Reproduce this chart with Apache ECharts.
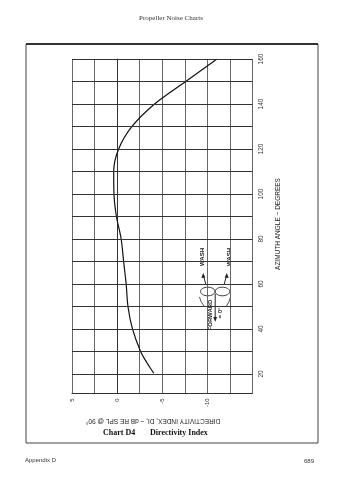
<!DOCTYPE html>
<html>
<head>
<meta charset="utf-8">
<script src="https://cdn.jsdelivr.net/npm/echarts@6/dist/echarts.min.js"></script>
<style>
html,body{margin:0;padding:0;background:#fff;}
#c{width:338px;height:480px;}
</style>
</head>
<body>
<div id="c"></div>
<script>
// Directivity index (dB) vs azimuth angle (degrees)
var azimuth = [160, 150, 140, 130, 120, 110, 100, 90, 80, 70, 60, 50, 40, 30, 25, 20.3];
var directivity = [-11.07, -7.6, -4.15, -1.65, -0.17, 0.38, 0.35, 0.08, -0.45, -0.72, -1.0, -1.2, -1.7, -2.6, -3.3, -4.07];
var angleTicks = [20, 30, 40, 50, 60, 70, 80, 90, 100, 110, 120, 130, 140, 150, 160];
var angleLabels = [20, 40, 60, 80, 100, 120, 140, 160];
var diLabels = [5, 0, -5, -10];

var curve = azimuth.map(function (a, i) { return [directivity[i], a]; });

var chart = echarts.init(document.getElementById('c'), null, {renderer: 'canvas'});
var sans = 'Liberation Sans';

chart.setOption({
  animation: false,
  backgroundColor: '#fff',
  grid: {left: 72, right: 85.5, top: 59, bottom: 86.7},
  xAxis: {
    type: 'value', inverse: true, min: -15, max: 5, interval: 2.5,
    axisLine: {show: true, onZero: false, lineStyle: {color: '#333', width: 1}},
    axisTick: {show: false},
    splitLine: {show: true, lineStyle: {color: '#666', width: 1}},
    axisLabel: {
      rotate: 90, margin: 5, fontFamily: sans, fontSize: 6, color: '#333',
      formatter: function (v) { return diLabels.indexOf(v) >= 0 ? String(v) : ''; }
    }
  },
  yAxis: {
    type: 'value', position: 'right', min: 11.4, max: 160,
    axisLine: {show: true, lineStyle: {color: '#333', width: 1}},
    axisTick: {show: false},
    splitLine: {show: false},
    axisLabel: {
      rotate: 90, margin: 5, fontFamily: sans, fontSize: 6.5, color: '#333',
      customValues: angleLabels,
      formatter: function (v) { return angleLabels.indexOf(v) >= 0 ? String(v) : ''; }
    }
  },
  series: [
    {
      type: 'line', data: [], silent: true,
      markLine: {
        silent: true, symbol: 'none', label: {show: false},
        lineStyle: {color: '#333', width: 1, type: 'solid'},
        data: angleTicks.map(function (a) { return {yAxis: a}; })
      }
    },
    {
      type: 'line', data: curve, smooth: 0.3, showSymbol: false, symbol: 'none',
      lineStyle: {color: '#111', width: 1.2}
    }
  ],
  graphic: [
    {type: 'rect', shape: {x: 26, y: 44, width: 292, height: 399}, style: {fill: 'none', stroke: '#444', lineWidth: 1}},
    {type: 'line', shape: {x1: 26, y1: 44, x2: 318, y2: 44}, style: {stroke: '#111', lineWidth: 1.5}},
    {type: 'text', x: 171, y: 18, style: {text: 'Propeller Noise Charts', font: '7px "Liberation Serif"', fill: '#333', align: 'center', verticalAlign: 'middle'}},
    {type: 'text', x: 278, y: 224, rotation: Math.PI / 2, style: {text: 'AZIMUTH ANGLE ~ DEGREES', font: '6.5px "Liberation Sans"', fill: '#222', align: 'center', verticalAlign: 'middle'}},
    {type: 'text', x: 153, y: 421, rotation: Math.PI, style: {text: 'DIRECTIVITY INDEX, DI, ~ dB RE SPL @ 90°', font: '6.5px "Liberation Sans"', fill: '#222', align: 'center', verticalAlign: 'middle'}},
    {type: 'text', x: 103, y: 433, style: {text: 'Chart D4', font: 'bold 8px "Liberation Serif"', fill: '#111', align: 'left', verticalAlign: 'middle'}},
    {type: 'text', x: 150, y: 433, style: {text: 'Directivity Index', font: 'bold 8px "Liberation Serif"', fill: '#111', align: 'left', verticalAlign: 'middle'}},
    {type: 'text', x: 25, y: 460, style: {text: 'Appendix D', font: '6px "Liberation Sans"', fill: '#333', align: 'left', verticalAlign: 'middle'}},
    {type: 'text', x: 314, y: 461, style: {text: '689', font: '6px "Liberation Sans"', fill: '#333', align: 'right', verticalAlign: 'middle'}},
    // propeller icon
    {type: 'text', x: 202.7, y: 257, rotation: Math.PI / 2, style: {text: 'WASH', font: 'bold 6px "Liberation Sans"', fill: '#222', align: 'center', verticalAlign: 'middle'}},
    {type: 'text', x: 229, y: 257, rotation: Math.PI / 2, style: {text: 'WASH', font: 'bold 6px "Liberation Sans"', fill: '#222', align: 'center', verticalAlign: 'middle'}},
    {type: 'line', shape: {x1: 206, y1: 285, x2: 203.6, y2: 276}, style: {stroke: '#222', lineWidth: 1}},
    {type: 'polygon', shape: {points: [[203.2, 273], [201.3, 278], [205.3, 277.5]]}, style: {fill: '#222'}},
    {type: 'line', shape: {x1: 224, y1: 285, x2: 226.4, y2: 276}, style: {stroke: '#222', lineWidth: 1}},
    {type: 'polygon', shape: {points: [[226.8, 273], [228.7, 278], [224.7, 277.5]]}, style: {fill: '#222'}},
    {type: 'ellipse', shape: {cx: 207.8, cy: 291.5, rx: 7.3, ry: 4.3}, style: {fill: 'none', stroke: '#222', lineWidth: 0.9}},
    {type: 'ellipse', shape: {cx: 222.4, cy: 291.5, rx: 7.3, ry: 4.3}, style: {fill: 'none', stroke: '#222', lineWidth: 0.9}},
    {type: 'bezierCurve', shape: {x1: 199.5, y1: 297, x2: 204, y2: 306, cpx1: 200.5, cpy1: 302}, style: {fill: 'none', stroke: '#222', lineWidth: 0.8}},
    {type: 'bezierCurve', shape: {x1: 230.5, y1: 297, x2: 226.5, y2: 306, cpx1: 229.5, cpy1: 302}, style: {fill: 'none', stroke: '#222', lineWidth: 0.8}},
    {type: 'line', shape: {x1: 215.2, y1: 294, x2: 215.2, y2: 318}, style: {stroke: '#222', lineWidth: 1}},
    {type: 'polygon', shape: {points: [[215.2, 322], [213.3, 317], [217.1, 317]]}, style: {fill: '#222'}},
    {type: 'text', x: 210, y: 315, rotation: Math.PI / 2, style: {text: 'FORWARD', font: 'bold 6px "Liberation Sans"', fill: '#222', align: 'center', verticalAlign: 'middle'}},
    {type: 'text', x: 220.5, y: 313, rotation: Math.PI / 2, style: {text: '= 0°', font: 'bold 6px "Liberation Sans"', fill: '#222', align: 'center', verticalAlign: 'middle'}}
  ]
});
</script>
</body>
</html>
